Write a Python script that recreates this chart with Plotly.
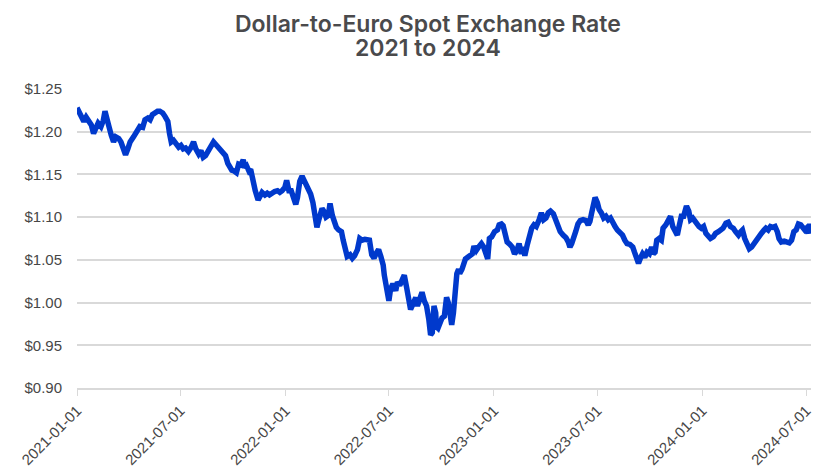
import plotly.graph_objects as go

# Dollar-to-euro spot rate (USD per EUR)
dates_2021 = [
    "2021-01-01", "2021-01-07", "2021-01-13", "2021-01-17", "2021-01-21", "2021-01-26",
    "2021-01-30", "2021-02-03", "2021-02-07", "2021-02-12", "2021-02-16", "2021-02-19",
    "2021-02-22", "2021-02-26", "2021-03-02", "2021-03-06", "2021-03-10", "2021-03-15",
    "2021-03-19", "2021-03-23", "2021-03-27", "2021-03-31", "2021-04-04", "2021-04-10",
    "2021-04-16", "2021-04-21", "2021-04-26", "2021-04-30", "2021-05-05", "2021-05-09",
    "2021-05-13", "2021-05-18", "2021-05-22", "2021-05-26", "2021-05-31", "2021-06-04",
    "2021-06-09", "2021-06-12", "2021-06-15", "2021-06-19", "2021-06-23", "2021-06-28",
    "2021-07-02", "2021-07-06", "2021-07-10", "2021-07-15", "2021-07-20", "2021-07-24",
    "2021-07-28", "2021-08-02", "2021-08-06", "2021-08-10", "2021-08-14", "2021-08-19",
    "2021-08-24", "2021-08-28", "2021-09-01", "2021-09-05", "2021-09-10", "2021-09-14",
    "2021-09-18", "2021-09-22", "2021-09-26", "2021-09-29", "2021-10-03", "2021-10-07",
    "2021-10-11", "2021-10-15", "2021-10-19", "2021-10-22", "2021-10-25", "2021-10-29",
    "2021-11-01", "2021-11-05", "2021-11-09", "2021-11-14", "2021-11-17", "2021-11-21",
    "2021-11-26", "2021-11-30", "2021-12-04", "2021-12-09", "2021-12-13", "2021-12-18",
    "2021-12-22", "2021-12-26", "2021-12-31",
]
rate_2021 = [
    1.228, 1.220, 1.212, 1.217, 1.214, 1.208,
    1.198, 1.206, 1.210, 1.206, 1.213, 1.224,
    1.214, 1.206, 1.196, 1.188, 1.194, 1.192,
    1.188, 1.178, 1.173, 1.180, 1.188, 1.194,
    1.202, 1.206, 1.205, 1.214, 1.216, 1.214,
    1.220, 1.223, 1.224, 1.224, 1.222, 1.218,
    1.212, 1.198, 1.188, 1.190, 1.186, 1.182,
    1.184, 1.180, 1.181, 1.177, 1.182, 1.188,
    1.180, 1.174, 1.178, 1.170, 1.172, 1.178,
    1.186, 1.188, 1.185, 1.182, 1.178, 1.174,
    1.172, 1.163, 1.157, 1.155, 1.154, 1.152,
    1.162, 1.161, 1.167, 1.158, 1.160, 1.154,
    1.156, 1.142, 1.131, 1.120, 1.125, 1.129,
    1.126, 1.128, 1.126, 1.129, 1.130, 1.131,
    1.129, 1.131, 1.135,
]

dates_2022 = [
    "2022-01-03", "2022-01-07", "2022-01-11", "2022-01-16", "2022-01-19", "2022-01-22",
    "2022-01-26", "2022-01-30", "2022-02-03", "2022-02-07", "2022-02-11", "2022-02-14",
    "2022-02-18", "2022-02-22", "2022-02-25", "2022-02-28", "2022-03-03", "2022-03-06",
    "2022-03-10", "2022-03-13", "2022-03-17", "2022-03-20", "2022-03-24", "2022-03-27",
    "2022-03-31", "2022-04-04", "2022-04-09", "2022-04-12", "2022-04-16", "2022-04-19",
    "2022-04-24", "2022-04-28", "2022-05-02", "2022-05-07", "2022-05-11", "2022-05-15",
    "2022-05-20", "2022-05-25", "2022-05-28", "2022-06-01", "2022-06-05", "2022-06-09",
    "2022-06-13", "2022-06-17", "2022-06-21", "2022-06-23", "2022-06-27", "2022-07-01",
    "2022-07-04", "2022-07-08", "2022-07-13", "2022-07-16", "2022-07-20", "2022-07-24",
    "2022-07-28", "2022-08-01", "2022-08-05", "2022-08-08", "2022-08-12", "2022-08-17",
    "2022-08-20", "2022-08-24", "2022-08-28", "2022-09-01", "2022-09-05", "2022-09-09",
    "2022-09-12", "2022-09-15", "2022-09-18", "2022-09-21", "2022-09-22", "2022-09-25",
    "2022-09-29", "2022-10-02", "2022-10-06", "2022-10-10", "2022-10-13", "2022-10-16",
    "2022-10-19", "2022-10-22", "2022-10-25", "2022-10-28", "2022-10-31", "2022-11-02",
    "2022-11-06", "2022-11-10", "2022-11-12", "2022-11-16", "2022-11-20", "2022-11-24",
    "2022-11-27", "2022-12-01", "2022-12-05", "2022-12-10", "2022-12-14", "2022-12-19",
    "2022-12-21", "2022-12-24", "2022-12-28",
]
rate_2022 = [
    1.143, 1.131, 1.131, 1.117, 1.115, 1.123,
    1.142, 1.148, 1.143, 1.135, 1.131, 1.127,
    1.117, 1.098, 1.088, 1.096, 1.102, 1.110,
    1.106, 1.100, 1.102, 1.116, 1.102, 1.094,
    1.088, 1.085, 1.083, 1.073, 1.060, 1.054,
    1.056, 1.052, 1.055, 1.062, 1.075, 1.073,
    1.074, 1.073, 1.073, 1.056, 1.052, 1.058,
    1.062, 1.054, 1.044, 1.032, 1.016, 1.002,
    1.016, 1.022, 1.014, 1.024, 1.020, 1.026,
    1.032, 1.018, 1.000, 0.992, 0.998, 1.006,
    0.996, 1.006, 1.012, 1.002, 0.996, 0.980,
    0.962, 0.965, 0.996, 0.988, 0.972, 0.970,
    0.978, 0.982, 0.984, 1.006, 1.000, 0.988,
    0.974, 0.988, 1.020, 1.034, 1.039, 1.034,
    1.039, 1.047, 1.051, 1.053, 1.055, 1.057,
    1.066, 1.061, 1.065, 1.069, 1.065, 1.055,
    1.051, 1.075, 1.077,
]

dates_2023 = [
    "2023-01-02", "2023-01-07", "2023-01-10", "2023-01-14", "2023-01-17", "2023-01-20",
    "2023-01-24", "2023-01-29", "2023-02-02", "2023-02-06", "2023-02-10", "2023-02-14",
    "2023-02-18", "2023-02-21", "2023-02-24", "2023-02-28", "2023-03-04", "2023-03-08",
    "2023-03-12", "2023-03-16", "2023-03-21", "2023-03-25", "2023-03-29", "2023-04-02",
    "2023-04-06", "2023-04-10", "2023-04-15", "2023-04-19", "2023-04-23", "2023-04-27",
    "2023-05-02", "2023-05-07", "2023-05-11", "2023-05-14", "2023-05-17", "2023-05-21",
    "2023-05-24", "2023-05-28", "2023-06-01", "2023-06-06", "2023-06-11", "2023-06-15",
    "2023-06-18", "2023-06-21", "2023-06-24", "2023-06-27", "2023-07-01", "2023-07-04",
    "2023-07-08", "2023-07-12", "2023-07-16", "2023-07-20", "2023-07-24", "2023-07-28",
    "2023-08-01", "2023-08-05", "2023-08-09", "2023-08-14", "2023-08-18", "2023-08-22",
    "2023-08-27", "2023-09-01", "2023-09-04", "2023-09-08", "2023-09-11", "2023-09-15",
    "2023-09-18", "2023-09-22", "2023-09-26", "2023-09-30", "2023-10-04", "2023-10-07",
    "2023-10-10", "2023-10-13", "2023-10-17", "2023-10-21", "2023-10-24", "2023-10-29",
    "2023-11-02", "2023-11-06", "2023-11-10", "2023-11-14", "2023-11-18", "2023-11-21",
    "2023-11-25", "2023-11-29", "2023-12-04", "2023-12-08", "2023-12-11", "2023-12-15",
    "2023-12-19", "2023-12-23", "2023-12-26", "2023-12-30",
]
rate_2023 = [
    1.083, 1.085, 1.091, 1.092, 1.090, 1.079,
    1.071, 1.068, 1.065, 1.057, 1.061, 1.069,
    1.057, 1.065, 1.055, 1.067, 1.079, 1.087,
    1.091, 1.089, 1.097, 1.105, 1.097, 1.099,
    1.105, 1.107, 1.104, 1.097, 1.089, 1.083,
    1.079, 1.076, 1.071, 1.065, 1.069, 1.075,
    1.083, 1.092, 1.096, 1.097, 1.096, 1.091,
    1.095, 1.105, 1.119, 1.123, 1.117, 1.109,
    1.105, 1.099, 1.101, 1.097, 1.099, 1.093,
    1.089, 1.085, 1.083, 1.079, 1.073, 1.069,
    1.068, 1.065, 1.059, 1.053, 1.046, 1.053,
    1.057, 1.053, 1.059, 1.057, 1.065, 1.057,
    1.059, 1.073, 1.075, 1.073, 1.087, 1.091,
    1.095, 1.101, 1.089, 1.083, 1.079, 1.089,
    1.101, 1.101, 1.113, 1.107, 1.097, 1.099,
    1.095, 1.093, 1.089, 1.087,
]

dates_2024 = [
    "2024-01-03", "2024-01-07", "2024-01-11", "2024-01-15", "2024-01-20", "2024-01-24",
    "2024-01-29", "2024-02-02", "2024-02-06", "2024-02-11", "2024-02-15", "2024-02-19",
    "2024-02-24", "2024-02-28", "2024-03-04", "2024-03-08", "2024-03-11", "2024-03-15",
    "2024-03-19", "2024-03-23", "2024-03-27", "2024-03-31", "2024-04-05", "2024-04-09",
    "2024-04-13", "2024-04-18", "2024-04-21", "2024-04-25", "2024-04-29", "2024-05-03",
    "2024-05-07", "2024-05-11", "2024-05-14", "2024-05-18", "2024-05-23", "2024-05-27",
    "2024-06-01", "2024-06-05", "2024-06-09", "2024-06-13", "2024-06-17", "2024-06-21",
    "2024-06-24", "2024-06-28", "2024-07-01", "2024-07-04", "2024-07-07", "2024-07-09",
]
rate_2024 = [
    1.089, 1.081, 1.079, 1.075, 1.077, 1.081,
    1.083, 1.085, 1.087, 1.093, 1.094, 1.089,
    1.087, 1.083, 1.079, 1.083, 1.085, 1.075,
    1.067, 1.063, 1.065, 1.069, 1.075, 1.077,
    1.081, 1.085, 1.087, 1.085, 1.089, 1.088,
    1.089, 1.083, 1.075, 1.071, 1.072, 1.071,
    1.070, 1.073, 1.083, 1.085, 1.092, 1.091,
    1.089, 1.085, 1.087, 1.081, 1.092, 1.082,
]

x_tick_labels = [
    "2021-01-01", "2021-07-01", "2022-01-01", "2022-07-01",
    "2023-01-01", "2023-07-01", "2024-01-01", "2024-07-01",
]
y_tick_vals = [0.90, 0.95, 1.00, 1.05, 1.10, 1.15, 1.20, 1.25]
y_tick_labels = ["$0.90", "$0.95", "$1.00", "$1.05", "$1.10", "$1.15", "$1.20", "$1.25"]

dates = dates_2021 + dates_2022 + dates_2023 + dates_2024
rates = rate_2021 + rate_2022 + rate_2023 + rate_2024

fig = go.Figure()
fig.add_trace(
    go.Scatter(
        x=dates,
        y=rates,
        mode="lines",
        line=dict(color="#0039cc", width=5.5),
        hoverinfo="x+y",
    )
)

tick_font = dict(family="Liberation Sans, Arial, sans-serif", size=15, color="#474747")
title_font = dict(family="Inter, Lato, sans-serif", size=23, color="#4a4a4c", weight=600)

# the page body adds an 8px margin, so the figure is a bit smaller than the window
fig.update_layout(
    width=832,
    height=464,
    paper_bgcolor="white",
    plot_bgcolor="white",
    showlegend=False,
    margin=dict(l=69, r=29, t=81, b=84),
)

# two-line title, placed as annotations to control the line spacing
fig.add_annotation(
    text="Dollar-to-Euro Spot Exchange Rate",
    xref="paper", yref="paper", x=0.478, y=1.216,
    xanchor="center", yanchor="middle",
    showarrow=False, font=title_font,
)
fig.add_annotation(
    text="2021 to 2024",
    xref="paper", yref="paper", x=0.478, y=1.137,
    xanchor="center", yanchor="middle",
    showarrow=False, font=title_font,
)

fig.update_xaxes(
    type="date",
    range=["2021-01-01", "2024-07-09"],
    tickvals=x_tick_labels,
    ticktext=x_tick_labels,
    tickangle=-45,
    tickfont=tick_font,
    showgrid=False,
    showline=True,
    linecolor="#d9d9d9",
    linewidth=2,
    ticks="outside",
    ticklen=6,
    tickcolor="#d9d9d9",
    tickwidth=1,
    zeroline=False,
    automargin=False,
)

fig.update_yaxes(
    range=[0.9, 1.25],
    tickvals=y_tick_vals,
    ticktext=y_tick_labels,
    tickfont=tick_font,
    showgrid=True,
    gridcolor="#d9d9d9",
    gridwidth=2,
    zeroline=False,
    showline=False,
    ticks="",
    ticklabelstandoff=14,
    automargin=False,
)

fig.write_html("out.html")
